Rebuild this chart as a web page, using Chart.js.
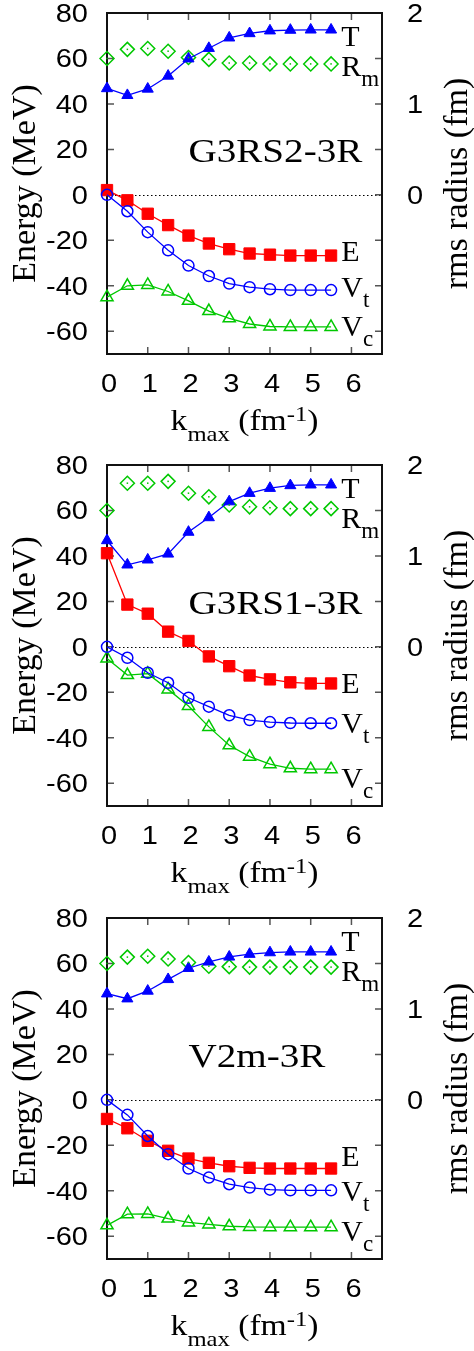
<!DOCTYPE html>
<html>
<head>
<meta charset="utf-8">
<script src="https://cdn.jsdelivr.net/npm/chart.js@4.4.1/dist/chart.umd.min.js"></script>
<style>
html, body { margin: 0; padding: 0; background: #fff; }
#wrap { position: relative; width: 474px; height: 1351px; }
canvas { position: absolute; left: 0; }
</style>
</head>
<body>
<div id="wrap">
  <canvas id="c0" width="474" height="446" style="top:0px"></canvas>
  <canvas id="c1" width="474" height="446" style="top:452px"></canvas>
  <canvas id="c2" width="474" height="446" style="top:905px"></canvas>
</div>
<script>
// k_max values (fm^-1)
const kmax = [0, 0.5, 1, 1.5, 2, 2.5, 3, 3.5, 4, 4.5, 5, 5.5];
const xTicks = [0, 1, 2, 3, 4, 5, 6];
const energyTicks = [-60, -40, -20, 0, 20, 40, 60, 80];
const radiusTicks = [0, 1, 2];

// G3RS2-3R (MeV, radius in fm)
const g2T  = [46.8, 43.8, 46.6, 52.3, 59.9, 64.5, 69.1, 71.0, 72.2, 72.5, 72.6, 72.6];
const g2Rm = [1.50, 1.60, 1.61, 1.58, 1.51, 1.49, 1.45, 1.45, 1.44, 1.44, 1.44, 1.44];
const g2E  = [2.1, -2.4, -8.3, -13.3, -17.9, -21.4, -23.9, -25.8, -26.3, -26.7, -26.7, -26.7];
const g2Vt = [0, -7.2, -16.4, -24.4, -31.1, -35.7, -39.0, -40.6, -41.5, -41.9, -41.9, -41.9];
const g2Vc = [-45.0, -40.0, -39.6, -42.5, -46.6, -51.1, -54.3, -56.8, -57.9, -58.1, -58.1, -58.1];

// G3RS1-3R
const g1T  = [46.8, 36.1, 38.3, 40.9, 50.5, 56.9, 63.9, 67.6, 69.8, 71.0, 71.3, 71.3];
const g1Rm = [1.50, 1.80, 1.80, 1.82, 1.69, 1.65, 1.56, 1.54, 1.53, 1.52, 1.52, 1.52];
const g1E  = [41.2, 18.6, 14.6, 6.7, 2.6, -4.2, -8.5, -12.6, -14.3, -15.6, -16.1, -16.1];
const g1Vt = [0, -4.8, -11.4, -15.8, -22.4, -26.3, -30.1, -32.2, -33.1, -33.5, -33.6, -33.6];
const g1Vc = [-5.1, -12.4, -11.8, -18.7, -26.0, -35.2, -43.3, -48.3, -51.6, -53.4, -53.8, -53.8];

// V2m-3R
const v2T  = [46.7, 44.5, 47.9, 53.0, 57.9, 60.7, 62.9, 64.1, 64.8, 65.1, 65.1, 65.1];
const v2Rm = [1.50, 1.57, 1.58, 1.55, 1.51, 1.47, 1.465, 1.46, 1.46, 1.46, 1.46, 1.46];
const v2E  = [-8.4, -12.5, -18.0, -22.4, -25.8, -27.7, -29.2, -29.9, -30.2, -30.2, -30.2, -30.2];
const v2Vt = [0, -6.6, -15.9, -23.9, -30.2, -34.2, -37.1, -38.6, -39.5, -39.8, -39.8, -39.8];
const v2Vc = [-55.2, -50.3, -50.2, -52.2, -53.9, -54.8, -55.6, -55.9, -56.0, -56.0, -56.0, -56.0];

const BLUE = '#0000ff', RED = '#ff0000', GREEN = '#00c800';
const SERIF = '"Liberation Serif", "Times New Roman", serif';
const SANS = '"Liberation Sans", Arial, sans-serif';

// label heights (MeV) of E and Vt differ per panel
const panels = [
  { id: 'c0', name: 'G3RS2-3R', T: g2T, Rm: g2Rm, E: g2E, Vt: g2Vt, Vc: g2Vc, eLab: -29.2, vtLab: -45 },
  { id: 'c1', name: 'G3RS1-3R', T: g1T, Rm: g1Rm, E: g1E, Vt: g1Vt, Vc: g1Vc, eLab: -20.2, vtLab: -37.7 },
  { id: 'c2', name: 'V2m-3R',   T: v2T, Rm: v2Rm, E: v2E, Vt: v2Vt, Vc: v2Vc, eLab: -29.3, vtLab: -44.6 }
];

function pts(ys) {
  return kmax.map((k, i) => ({ x: k, y: ys[i] }));
}

// draw a run of text pieces (with sub/superscripts), horizontally stretched by sx
function rich(ctx, pieces, x, y, align, sx) {
  ctx.save();
  let w = 0;
  pieces.forEach(p => {
    ctx.font = p.size + 'px ' + p.family;
    w += ctx.measureText(p.t).width;
  });
  let x0 = align === 'center' ? x - w * sx / 2 : align === 'right' ? x - w * sx : x;
  ctx.translate(x0, y);
  ctx.scale(sx, 1);
  ctx.textAlign = 'left';
  ctx.textBaseline = 'alphabetic';
  ctx.fillStyle = '#000';
  let cx = 0;
  pieces.forEach(p => {
    ctx.font = p.size + 'px ' + p.family;
    ctx.fillText(p.t, cx, p.dy || 0);
    cx += ctx.measureText(p.t).width;
  });
  ctx.restore();
}

function sub(main, s) {
  return [{ t: main, size: 30, family: SERIF }, { t: s, size: 23, family: SERIF, dy: 10 }];
}

const gnuFrame = {
  id: 'gnuFrame',
  beforeDatasetsDraw(chart) {
    const { ctx, chartArea: a, scales: { x, y } } = chart;
    ctx.save();
    // dotted zero line
    ctx.strokeStyle = '#000';
    ctx.lineWidth = 1;
    ctx.setLineDash([1.5, 2.5]);
    ctx.beginPath();
    ctx.moveTo(a.left, Math.round(y.getPixelForValue(0)) + 0.5);
    ctx.lineTo(a.right, Math.round(y.getPixelForValue(0)) + 0.5);
    ctx.stroke();
    ctx.setLineDash([]);
    // inward ticks
    ctx.strokeStyle = '#555';
    ctx.lineWidth = 1.5;
    ctx.beginPath();
    energyTicks.forEach(v => {
      const py = y.getPixelForValue(v);
      ctx.moveTo(a.left, py); ctx.lineTo(a.left + 7, py);
      ctx.moveTo(a.right, py); ctx.lineTo(a.right - 7, py);
    });
    xTicks.forEach(v => {
      const px = x.getPixelForValue(v);
      ctx.moveTo(px, a.top); ctx.lineTo(px, a.top + 7);
      ctx.moveTo(px, a.bottom); ctx.lineTo(px, a.bottom - 7);
    });
    ctx.stroke();
    // frame
    ctx.strokeStyle = '#111';
    ctx.lineWidth = 2;
    ctx.strokeRect(a.left, a.top, a.right - a.left, a.bottom - a.top);
    ctx.restore();
  },
  afterDatasetsDraw(chart) {
    // centre dot of the diamonds
    const { ctx } = chart;
    chart.data.datasets.forEach((ds, i) => {
      if (!ds.centerDot) return;
      ctx.save();
      ctx.fillStyle = ds.borderColor;
      chart.getDatasetMeta(i).data.forEach(pt => {
        ctx.fillRect(pt.x - 0.75, pt.y - 0.75, 1.5, 1.5);
      });
      ctx.restore();
    });
  },
  afterDraw(chart, args, opts) {
    const { ctx, chartArea: a, scales: { x, y, y2 } } = chart;
    // tick labels
    energyTicks.forEach(v => {
      rich(ctx, [{ t: String(v), size: 25, family: SANS }], a.left - 19, y.getPixelForValue(v) + 9, 'right', 1.16);
    });
    radiusTicks.forEach(v => {
      rich(ctx, [{ t: String(v), size: 25, family: SANS }], a.right + 25, y2.getPixelForValue(v) + 9, 'left', 1.16);
    });
    xTicks.forEach(v => {
      rich(ctx, [{ t: String(v), size: 25, family: SANS }], x.getPixelForValue(v) + 2, a.bottom + 38, 'center', 1.16);
    });
    // axis titles
    const cy = (a.top + a.bottom) / 2;
    ctx.save();
    ctx.translate(35, cy);
    ctx.rotate(-Math.PI / 2);
    rich(ctx, [{ t: 'Energy (MeV)', size: 34, family: SERIF }], 0, 0, 'center', 1);
    ctx.restore();
    ctx.save();
    ctx.translate(467, cy);
    ctx.rotate(-Math.PI / 2);
    rich(ctx, [{ t: 'rms radius (fm)', size: 34, family: SERIF }], 0, 0, 'center', 1);
    ctx.restore();
    rich(ctx, [
      { t: 'k', size: 30, family: SERIF },
      { t: 'max', size: 22, family: SERIF, dy: 11 },
      { t: ' (fm', size: 30, family: SERIF },
      { t: '-1', size: 22, family: SERIF, dy: -9 },
      { t: ')', size: 30, family: SERIF }
    ], (a.left + a.right) / 2, a.bottom + 76, 'center', 1.12);
    // panel name
    rich(ctx, [{ t: opts.name, size: 34, family: SERIF }], x.getPixelForValue(2.0), y.getPixelForValue(14.3), 'left', 1.15);
    // series labels
    const lx = x.getPixelForValue(5.75);
    rich(ctx, [{ t: 'T', size: 30, family: SERIF }], lx, y.getPixelForValue(65.3), 'left', 1);
    rich(ctx, sub('R', 'm'), lx, y.getPixelForValue(52.4), 'left', 1);
    rich(ctx, [{ t: 'E', size: 30, family: SERIF }], lx, y.getPixelForValue(opts.eLab), 'left', 1);
    rich(ctx, sub('V', 't'), lx, y.getPixelForValue(opts.vtLab), 'left', 1);
    rich(ctx, sub('V', 'c'), lx, y.getPixelForValue(-62), 'left', 1);
  }
};

function series(label, data, color, style, radius, filled, extra) {
  return Object.assign({
    label,
    data: pts(data),
    borderColor: color,
    backgroundColor: filled ? color : 'rgba(0,0,0,0)',
    borderWidth: 1.3,
    pointStyle: style,
    pointRadius: radius,
    pointBorderWidth: filled ? 1 : 1.5,
    pointBackgroundColor: filled ? color : 'rgba(0,0,0,0)',
    pointBorderColor: color,
    tension: 0,
    clip: false,
    yAxisID: 'y'
  }, extra || {});
}

panels.forEach(p => {
  new Chart(document.getElementById(p.id), {
    type: 'line',
    data: {
      datasets: [
        series('T', p.T, BLUE, 'triangle', 6.4, true),
        series('Vt', p.Vt, BLUE, 'circle', 5.5, false),
        series('E', p.E, RED, 'rect', 8, true),
        series('Vc', p.Vc, GREEN, 'triangle', 7, false),
        series('Rm', p.Rm, GREEN, 'rectRot', 7, false, { showLine: false, yAxisID: 'y2', centerDot: true })
      ]
    },
    plugins: [gnuFrame],
    options: {
      responsive: false,
      animation: false,
      events: [],
      layout: { padding: { top: 13, left: 0, right: 0, bottom: 0 } },
      plugins: {
        legend: { display: false },
        tooltip: { enabled: false },
        gnuFrame: { name: p.name, eLab: p.eLab, vtLab: p.vtLab }
      },
      scales: {
        x: {
          type: 'linear', min: 0, max: 6.75,
          grid: { display: false }, border: { display: false },
          ticks: { display: false, stepSize: 1, includeBounds: false },
          afterFit: s => { s.height = 92; }
        },
        y: {
          position: 'left', min: -70, max: 80,
          grid: { display: false }, border: { display: false },
          ticks: { display: false, stepSize: 20, includeBounds: false },
          afterFit: s => { s.width = 107; }
        },
        y2: {
          position: 'right', min: -1.75, max: 2,
          grid: { display: false }, border: { display: false },
          ticks: { display: false, stepSize: 1, includeBounds: false },
          afterFit: s => { s.width = 92; }
        }
      }
    }
  });
});
</script>
</body>
</html>
